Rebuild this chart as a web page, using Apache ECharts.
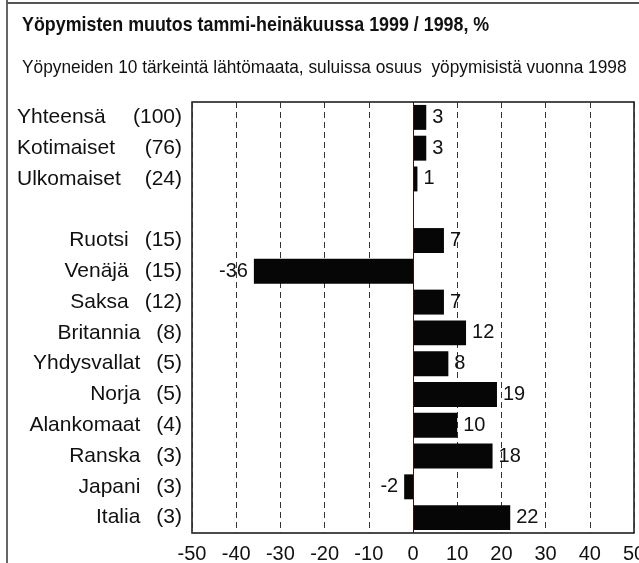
<!DOCTYPE html>
<html>
<head>
<meta charset="utf-8">
<script src="https://cdn.jsdelivr.net/npm/echarts@6/dist/echarts.min.js"></script>
<style>html,body{margin:0;padding:0;background:#fff}#c{width:639px;height:563px}</style>
</head>
<body>
<div id="c"></div>
<script>
var titleText = 'Yöpymisten muutos tammi-heinäkuussa 1999 / 1998, %';
var subtitleText = 'Yöpyneiden 10 tärkeintä lähtömaata, suluissa osuus  yöpymisistä vuonna 1998';
var categories = ['Yhteensä','Kotimaiset','Ulkomaiset','','Ruotsi','Venäjä','Saksa','Britannia','Yhdysvallat','Norja','Alankomaat','Ranska','Japani','Italia'];
var shares = [100, 76, 24, null, 15, 15, 12, 8, 5, 5, 4, 3, 3, 3];
var values = [3, 3, 1, null, 7, -36, 7, 12, 8, 19, 10, 18, -2, 22];
var xMin = -50, xMax = 50, xStep = 10;

var FONT = '"Liberation Sans", Arial, Helvetica, sans-serif';
var chart = echarts.init(document.getElementById('c'), null, {renderer: 'canvas'});

var barData = values.map(function (v) {
  if (v === null) return '-';
  return {
    value: v,
    label: { position: v < 0 ? 'left' : 'right' }
  };
});

chart.setOption({
  backgroundColor: '#fff',
  animation: false,
  graphic: [
    { type: 'line', shape: {x1: 7, y1: 0, x2: 7, y2: 563}, style: {stroke: '#666', lineWidth: 2} },
    { type: 'line', shape: {x1: 7, y1: 3, x2: 639, y2: 3}, style: {stroke: '#555', lineWidth: 2} },
    { type: 'text', x: 22, y: 15, scaleX: 0.85, style: { text: titleText, font: 'bold 21px ' + FONT, fill: '#111' } },
    { type: 'text', x: 22, y: 58, scaleX: 0.91, style: { text: subtitleText, font: '19px ' + FONT, fill: '#111' } }
  ],
  grid: { left: 192, right: 5, top: 102, bottom: 30, show: true, borderColor: '#111', borderWidth: 1.5, containLabel: false, outerBoundsMode: 'none' },
  xAxis: {
    type: 'value', min: xMin, max: xMax, interval: xStep,
    axisLine: { show: false },
    axisTick: { show: false },
    axisLabel: { color: '#111', fontSize: 20, fontFamily: FONT, margin: 11 },
    splitLine: { show: true, lineStyle: { color: '#333', width: 1, type: [6, 4] } }
  },
  yAxis: {
    type: 'category', data: categories, inverse: true,
    axisLine: { show: false }, axisTick: { show: false },
    axisLabel: {
      margin: 10, color: '#111', fontFamily: FONT, fontSize: 21,
      formatter: function (val, idx) {
        if (!val) return '';
        if (idx < 3) return '{a|' + val + '}{p|(' + shares[idx] + ')}';
        return '{b|' + val + '}{q|(' + shares[idx] + ')}';
      },
      rich: {
        a: { width: 118, align: 'left', fontSize: 21, fontFamily: FONT, color: '#111' },
        p: { width: 47, align: 'right', fontSize: 21, fontFamily: FONT, color: '#111' },
        b: { fontSize: 21, fontFamily: FONT, color: '#111' },
        q: { fontSize: 21, fontFamily: FONT, color: '#111', padding: [0, 0, 0, 16] }
      }
    }
  },
  series: [{
    type: 'bar',
    data: barData,
    barCategoryGap: '19%',
    itemStyle: { color: '#060606' },
    label: { show: true, distance: 6, color: '#111', fontSize: 20, fontFamily: FONT },
    markLine: {
      silent: true, symbol: 'none', label: { show: false },
      lineStyle: { color: '#3a1010', width: 1, type: 'solid' },
      data: [{ xAxis: 0 }]
    }
  }]
});
</script>
</body>
</html>
